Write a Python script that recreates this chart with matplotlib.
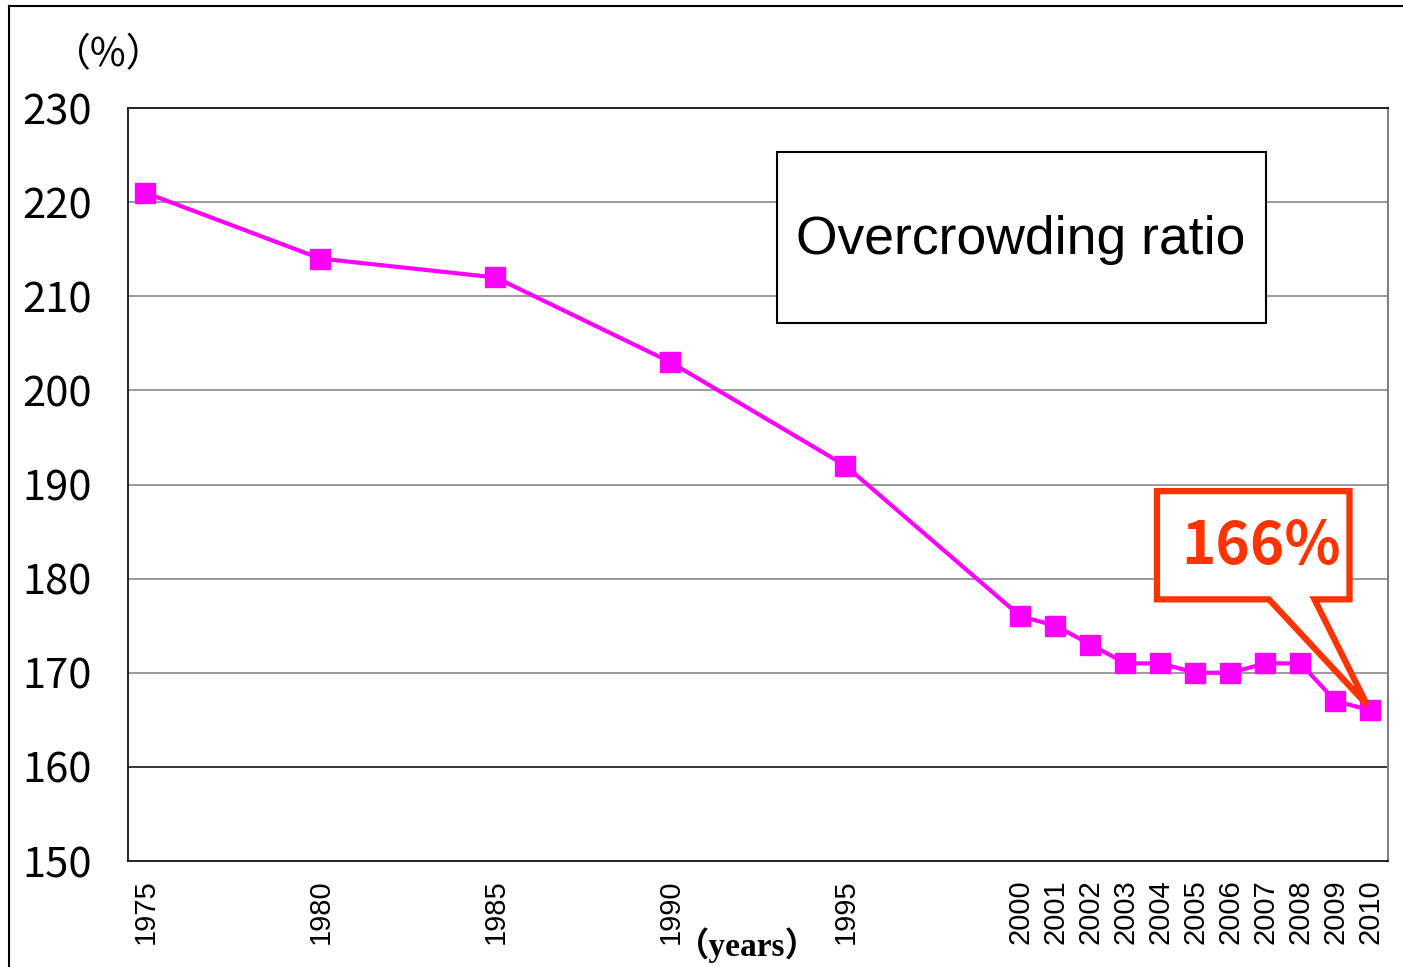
import matplotlib.pyplot as plt
from matplotlib.patches import Polygon, Rectangle
from matplotlib.lines import Line2D

# Dados: taxa de superlotação (%)
anos = [1975, 1980, 1985, 1990, 1995, 2000, 2001, 2002, 2003, 2004, 2005,
        2006, 2007, 2008, 2009, 2010]
taxa = [221, 214, 212, 203, 192, 176, 175, 173, 171, 171, 170, 170, 171,
        171, 167, 166]
y_ticks = [150, 160, 170, 180, 190, 200, 210, 220, 230]

magenta = '#FF00FF'
vermelho = '#FF3300'

fig = plt.figure(figsize=(14.03, 9.67), dpi=100)
ax = fig.add_axes([0.0912, 0.1096, 0.8981, 0.7787])

# Moldura externa (só esquerda e topo visíveis)
fig.add_artist(Line2D([0.0065, 0.0065], [0, 0.9938], color='black', lw=1.5,
                      transform=fig.transFigure))
fig.add_artist(Line2D([0.0065, 1], [0.9938, 0.9938], color='black', lw=1.5,
                      transform=fig.transFigure))

# Linhas de grade
for v in y_ticks[1:-1]:
    ax.axhline(v, color='black' if v == 160 else '#808080', lw=1.1, zorder=1)

ax.plot(anos, taxa, color=magenta, lw=3, marker='s', markersize=14,
        zorder=3, clip_on=False)

ax.set_xlim(1974.5, 2010.5)
ax.set_ylim(150, 230)
ax.set_yticks(y_ticks)
ax.set_yticklabels([str(v) for v in y_ticks], family='Noto Sans CJK JP',
                   fontsize=30)
ax.set_xticks(anos)
ax.set_xticklabels([str(a) for a in anos], rotation=90, va='top',
                   family='Liberation Sans', fontsize=21)
ax.tick_params(axis='y', length=0, pad=26)
ax.tick_params(axis='x', length=0, pad=13)

for lado in ['left', 'top', 'bottom']:
    ax.spines[lado].set_color('black')
    ax.spines[lado].set_linewidth(1.2)
ax.spines['right'].set_color('#808080')
ax.spines['right'].set_linewidth(1.5)

# Rótulos dos eixos
fig.text(0.0777, 0.943, '（%）', family=['Noto Sans CJK JP', 'DejaVu Sans'],
         fontsize=28, va='center', ha='center')
fig.text(0.533, 0.023, '（years）', family=['Liberation Serif', 'Noto Sans CJK JP'],
         fontsize=24, fontweight='bold', va='center', ha='center')

# Caixa do título
ax.add_patch(Rectangle((0.515, 0.7145), 0.3882, 0.2271, transform=ax.transAxes,
                       fc='white', ec='black', lw=1.5, zorder=5))
ax.text(0.7087, 0.8247, 'Overcrowding ratio', transform=ax.transAxes,
        family='Liberation Sans', fontsize=38.5, ha='center', va='center',
        zorder=6)

# Balão 166%
balao = [(2003.9, 189.3), (2009.4, 189.3), (2009.4, 177.8), (2008.4, 177.8),
         (2009.9, 166.6), (2007.1, 177.8), (2003.9, 177.8)]
ax.add_patch(Polygon(balao, closed=True, fc='white', ec=vermelho, lw=4.5,
                     joinstyle='miter', zorder=4))
ax.text(2006.87, 183.4, '166%', color=vermelho, fontsize=42, fontweight='bold',
        family='Noto Sans CJK JP', ha='center', va='center', zorder=5)

fig.savefig('out.png', dpi=100, facecolor='white')
